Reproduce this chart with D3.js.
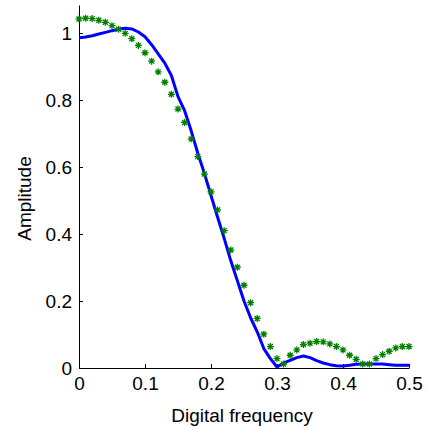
<!DOCTYPE html>
<html>
<head>
<meta charset="utf-8">
<script src="https://cdn.jsdelivr.net/npm/d3@7/dist/d3.min.js"></script>
<style>
html,body{margin:0;padding:0;background:#fff;}
svg{display:block;}
text{font-family:"Liberation Sans",Arial,Helvetica,sans-serif;}
</style>
</head>
<body>
<svg id="chart" width="427" height="427"></svg>
<script>
// Frequencies sampled at 0.01 from 0 to 0.5
const freq = d3.range(51).map(i => i / 100);

// Blue solid line (response)
const blueAmp = [0.986,0.988,0.992,0.997,1.002,1.007,1.011,1.014,1.012,1.003,
  0.989,0.965,0.938,0.910,0.873,0.810,0.768,0.708,0.641,0.581,
  0.515,0.450,0.387,0.320,0.260,0.200,0.150,0.108,0.058,0.028,
  0.003,0.015,0.023,0.031,0.036,0.031,0.022,0.015,0.010,0.007,
  0.006,0.008,0.011,0.012,0.012,0.012,0.012,0.010,0.008,0.008,0.008];

// Green asterisk markers (desired response)
const greenAmp = [1.042,1.044,1.043,1.038,1.032,1.022,1.011,0.999,0.983,0.963,
  0.941,0.916,0.884,0.853,0.817,0.773,0.733,0.684,0.631,0.579,
  0.526,0.472,0.410,0.352,0.301,0.247,0.195,0.148,0.101,0.064,
  0.028,0.012,0.038,0.054,0.070,0.074,0.079,0.078,0.072,0.064,
  0.054,0.038,0.026,0.012,0.012,0.028,0.040,0.050,0.060,0.064,0.064];

const xTicks = [0,0.1,0.2,0.3,0.4,0.5];
const yTicks = [0,0.2,0.4,0.6,0.8,1];
const xLabel = "Digital frequency";
const yLabel = "Amplitude";

const svg = d3.select("#chart");
const x = d3.scaleLinear().domain([0,0.5]).range([79,409]);
const y = d3.scaleLinear().domain([0,1.0836]).range([368,5]);

const fmt = d => d === 0 ? "0" : (d === 1 ? "1" : String(d));

// Axes (ticks pointing inward)
const gx = svg.append("g").attr("transform",`translate(0,${y(0)})`)
  .call(d3.axisBottom(x).tickValues(xTicks).tickFormat(fmt).tickSizeInner(-4).tickSizeOuter(0).tickPadding(9));
const gy = svg.append("g").attr("transform",`translate(${x(0)},0)`)
  .call(d3.axisLeft(y).tickValues(yTicks).tickFormat(fmt).tickSizeInner(-4).tickSizeOuter(0).tickPadding(7));

[gx,gy].forEach(g=>{
  g.select(".domain").attr("stroke","#000").attr("stroke-width",1);
  g.selectAll(".tick line").attr("stroke","#000").attr("stroke-width",1);
  g.selectAll(".tick text").attr("fill","#000").style("font-size","19px")
    .style("font-family","'Liberation Sans',Arial,sans-serif");
});
gx.selectAll(".tick text").attr("dy","0.71em");
gy.selectAll(".tick text").attr("dy","0.35em");

// Blue line
const line = d3.line().x((d,i)=>x(freq[i])).y(d=>y(d));
svg.append("path").datum(blueAmp)
  .attr("d",line).attr("fill","none").attr("stroke","#0000ff")
  .attr("stroke-width",3).attr("stroke-linejoin","round");

// Green asterisks
const r1 = 3.5, r2 = 2.5;
const star = `M${-r1},0L${r1},0M0,${-r1}L0,${r1}M${-r2},${-r2}L${r2},${r2}M${-r2},${r2}L${r2},${-r2}`;
svg.append("g").selectAll("path").data(greenAmp).join("path")
  .attr("transform",(d,i)=>`translate(${x(freq[i])},${y(d)})`)
  .attr("d",star).attr("fill","none").attr("stroke","#008000").attr("stroke-width",1.3);

// Labels
svg.append("text").attr("x",(x(0)+x(0.5))/2 - 2).attr("y",422)
  .attr("text-anchor","middle").style("font-size","19px").attr("fill","#000").text(xLabel);
svg.append("text").attr("transform",`translate(31,${(y(0)+y(1.0836))/2 + 12}) rotate(-90)`)
  .attr("text-anchor","middle").style("font-size","19px").attr("fill","#000").text(yLabel);
</script>
</body>
</html>
